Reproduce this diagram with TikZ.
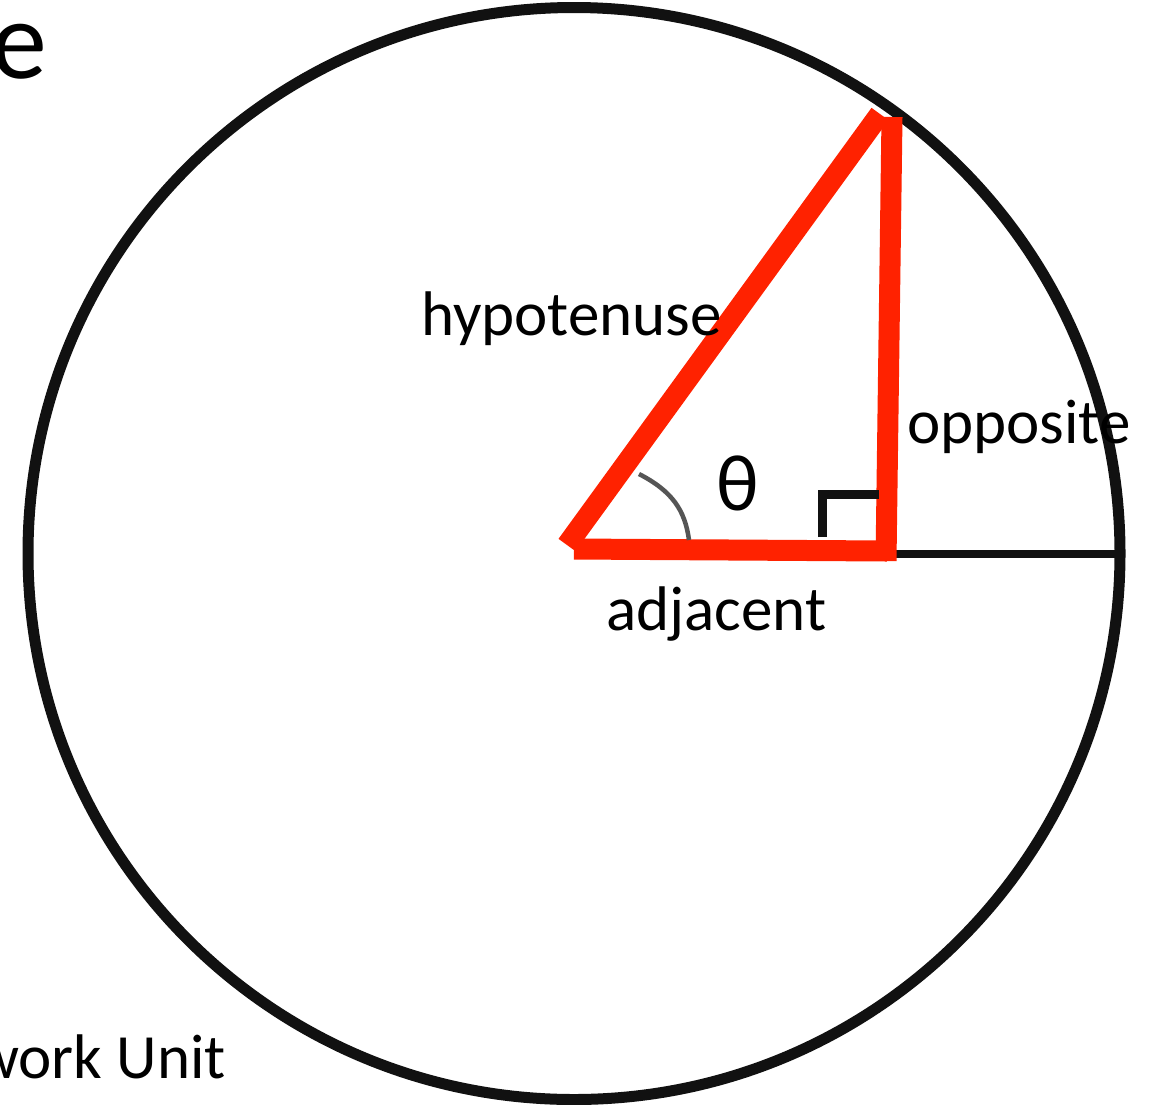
\documentclass[tikz,border=0pt]{standalone}
\usepackage{fontspec}
\setmainfont{Carlito}
\definecolor{redtri}{HTML}{FF2200}
\definecolor{ink}{HTML}{111111}
\definecolor{arcgray}{HTML}{555555}
\tikzset{
  redside/.style={draw=redtri, line width=21pt, line cap=butt},
  blackline/.style={draw=ink, line width=8pt},
  lbl/.style={inner sep=0pt, font=\fontsize{63}{70}\selectfont},
}
\begin{document}
\begin{tikzpicture}[x=1pt,y=-1pt]
\useasboundingbox (0,0) rectangle (1156,1104);
\clip (0,0) rectangle (1156,1104);
\fill[white] (0,0) rectangle (1156,1104);
% circle
\coordinate (O) at (574,553.5);
\draw[ink, line width=11pt] (O) circle (546);
% radius to the right
\coordinate (R0) at (886,554);
\coordinate (R1) at (1118,554);
\draw[blackline] (R0) -- (R1);
% triangle vertices
\coordinate (A) at (567,545);
\coordinate (B) at (880,114);
\coordinate (C1) at (574,549);
\coordinate (C2) at (887,551);
\coordinate (D1) at (892,117);
\coordinate (D2) at (886,561);
\draw[redside] (A) -- (B);
\draw[redside] (C1) -- (C2);
\draw[redside] (D1) -- (D2);
% angle arc
\coordinate (P1) at (639,474);
\coordinate (P2) at (689,540);
\draw[arcgray, line width=4.5pt] (P1) .. controls (672,491) and (685,510) .. (P2);
% right angle mark
\coordinate (Q1) at (822,537);
\coordinate (Q2) at (822,494);
\coordinate (Q3) at (879,494);
\draw[ink, line width=9pt] (Q1) -- (Q2) -- (Q3);
% labels
\node[lbl, anchor=base west] (hyp) at (421,335) {hypotenuse};
\node[lbl, anchor=base west] (opp) at (907,443) {opposite};
\node[lbl, anchor=base west] (adj) at (606,630) {adjacent};
\node[inner sep=0pt, font=\fontsize{80}{90}\selectfont] (th) at (738,483) {θ};
\node[inner sep=0pt, anchor=base east, font=\fontsize{112}{120}\selectfont] (ttl) at (47,78) {e};
\node[lbl, anchor=base east] (unit) at (226,1078) {work Unit};
\end{tikzpicture}
\end{document}
